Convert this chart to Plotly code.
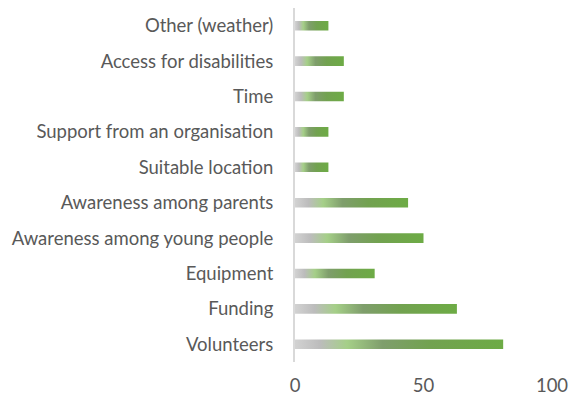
import plotly.graph_objects as go

categories = ["Volunteers", "Funding", "Equipment", "Awareness among young people",
              "Awareness among parents", "Suitable location", "Support from an organisation",
              "Time", "Access for disabilities", "Other (weather)"]
values = [81, 63, 31, 50, 44, 13, 13, 19, 19, 13]
x_ticks = [0, 50, 100]

half = 0.135
grad = [[0.0, "#d2d2d2"], [0.12, "#bcbcbc"], [0.25, "#a5cf88"], [0.42, "#7f9e6c"],
        [0.65, "#72a250"], [1.0, "#6dab45"]]

fig = go.Figure()
for i, (c, v) in enumerate(zip(categories, values)):
    fig.add_trace(go.Scatter(
        x=[0, v, v, 0, 0], y=[i - half, i - half, i + half, i + half, i - half],
        mode="lines", line=dict(width=0), fill="toself",
        fillgradient=dict(type="horizontal", colorscale=grad),
        hoverinfo="text", text=f"{c}: {v}", showlegend=False))

fig.update_layout(
    width=569, height=394, margin=dict(l=295, r=17, t=8, b=32, autoexpand=False),
    paper_bgcolor="white", plot_bgcolor="white",
    font=dict(family="Lato, Open Sans, sans-serif", size=18.5, color="#595959"),
    xaxis=dict(range=[0, 100], tickvals=x_ticks, showgrid=False, zeroline=False,
               showline=False, ticks="", ticklabelstandoff=10, automargin=False),
    yaxis=dict(range=[-0.5, 9.5], tickvals=list(range(len(categories))), ticktext=categories,
               showgrid=False, zeroline=False, showline=True, linecolor="#d9d9d9",
               linewidth=2, ticks="", ticklabelstandoff=16, automargin=False),
)
fig.write_html("out.html")
